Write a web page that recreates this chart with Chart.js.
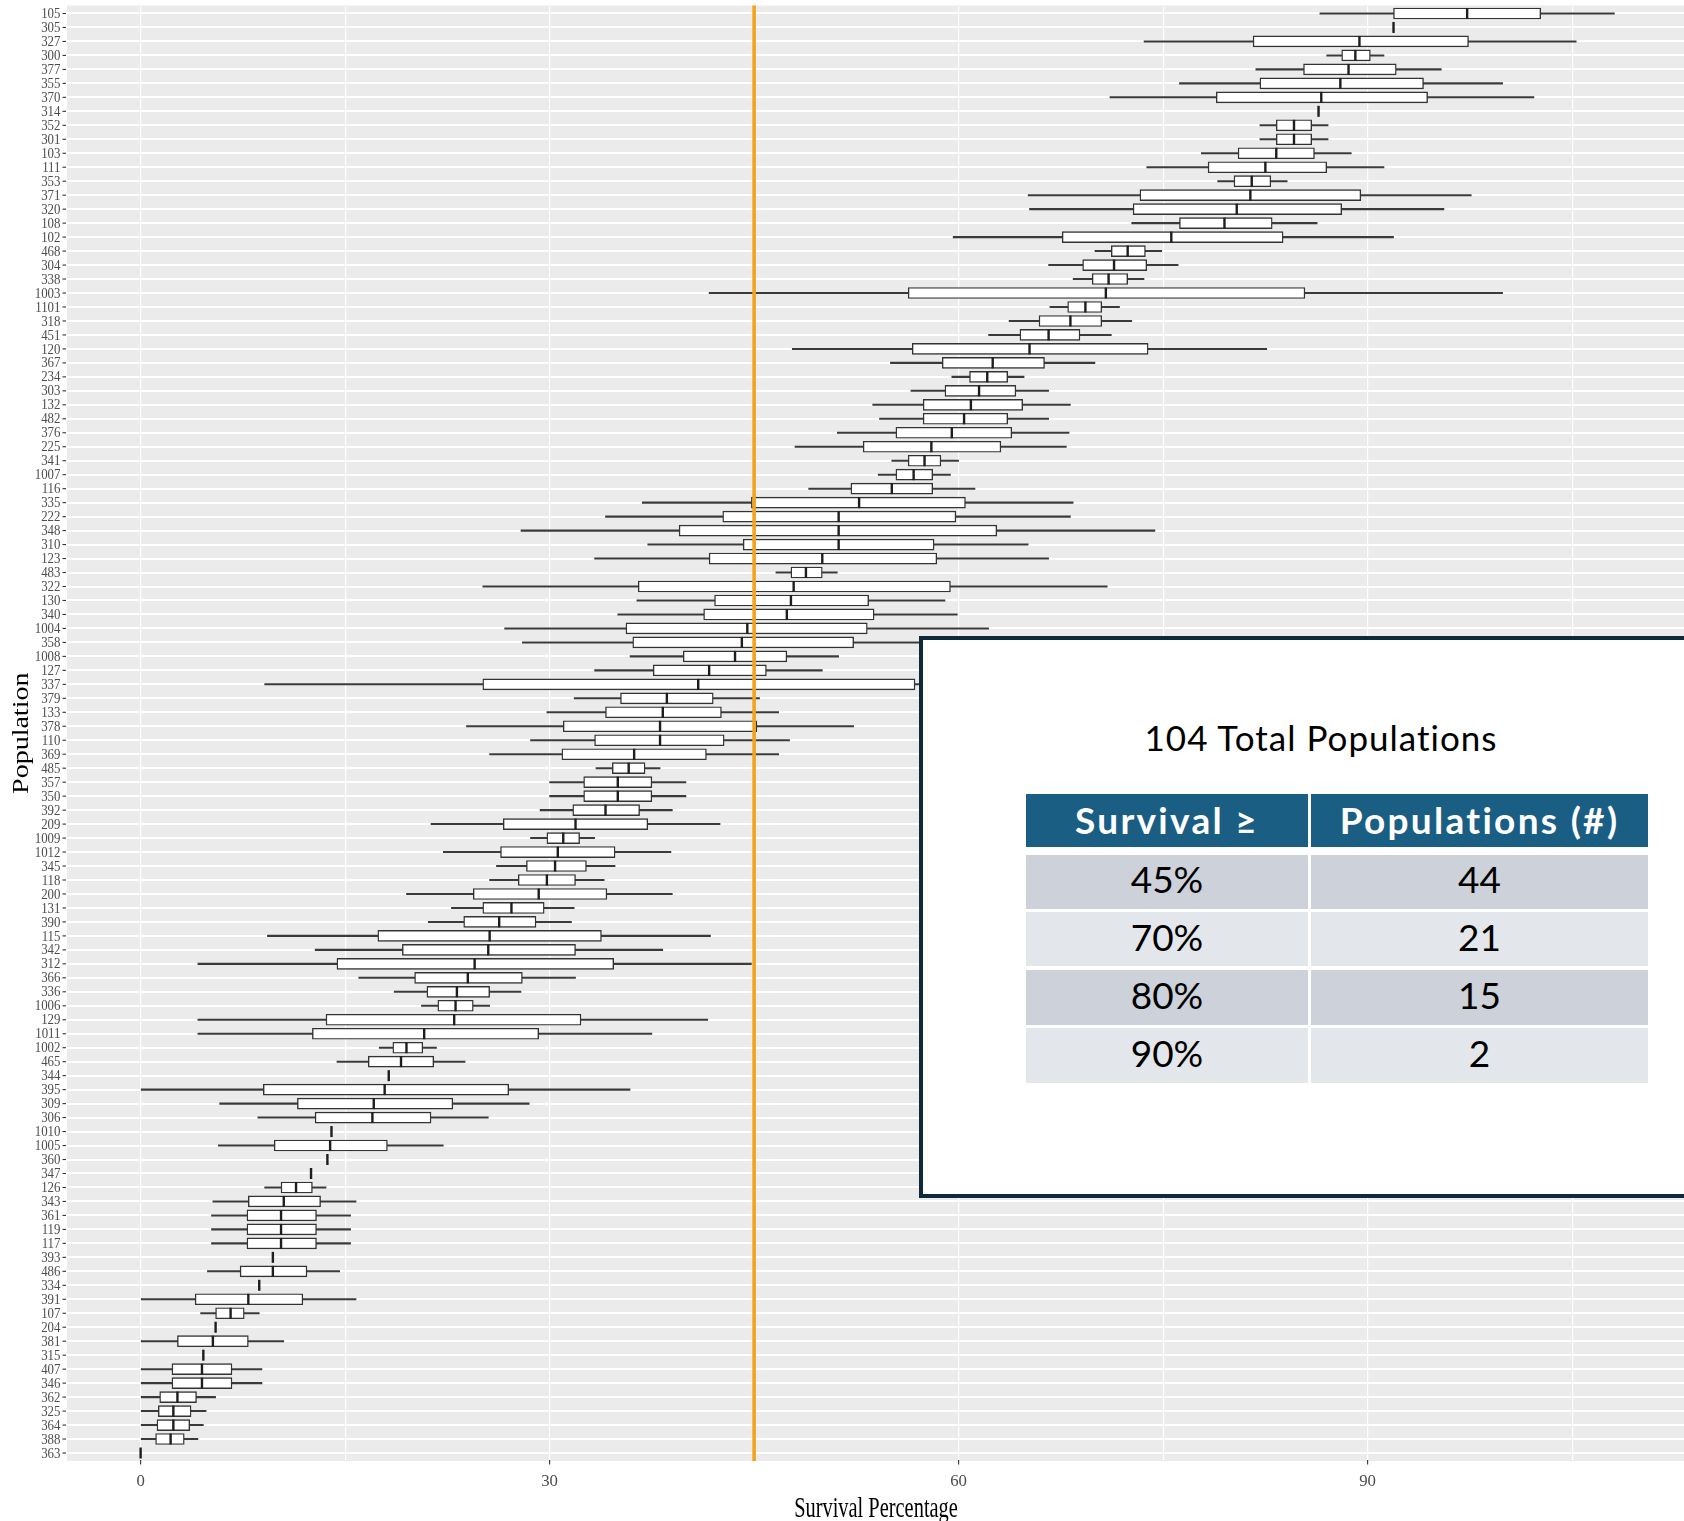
<!DOCTYPE html>
<html>
<head>
<meta charset="utf-8">
<script src="https://cdn.jsdelivr.net/npm/chart.js@4.4.1/dist/chart.umd.min.js"></script>
<style>
  html, body { margin: 0; padding: 0; background: #FFFFFF; }
  body { width: 1684px; height: 1521px; overflow: hidden; position: relative; }
  #wrap { position: absolute; left: 0; top: 0; width: 1692px; height: 1521px; }
  #note {
    position: absolute; left: 919px; top: 636px; width: 900px; height: 562px;
    box-sizing: border-box; border: 4px solid #0E2A3A; background: #FFFFFF;
    font-family: Lato, "Open Sans", sans-serif;
  }
  #note .title {
    position: absolute; left: 98px; width: 600px; top: 75px; text-align: center;
    font-size: 35px; letter-spacing: 1px; color: #000000; line-height: 44px;
  }
  #note .cell {
    position: absolute; display: flex; align-items: center; justify-content: center;
    box-sizing: border-box; padding-bottom: 6px;
    font-size: 37px; color: #000000;
  }
  #note .head {
    background: #1A5E84; color: #FFFFFF; font-weight: 700; font-size: 37px;
    letter-spacing: 2.3px; padding-bottom: 2px;
  }
</style>
</head>
<body>
<div id="wrap"><canvas id="chart" width="1692" height="1521"></canvas></div>
<div id="note"></div>
<script>
// Populations, top to bottom
const populations = [
  '105','305','327','300','377','355','370','314','352','301','103','111','353','371','320','108','102','468','304','338',
  '1003','1101','318','451','120','367','234','303','132','482','376','225','341','1007','116','335','222','348','310','123',
  '483','322','130','340','1004','358','1008','127','337','379','133','378','110','369','485','357','350','392','209','1009',
  '1012','345','118','200','131','390','115','342','312','366','336','1006','129','1011','1002','465','344','395','309','306',
  '1010','1005','360','347','126','343','361','119','117','393','486','334','391','107','204','381','315','407','346','362',
  '325','364','388','363'
];

// Survival percentage summaries per population
const whiskerLow = [
  86.5,91.9,73.6,87.0,81.8,76.2,71.1,86.4,82.1,82.1,77.8,73.8,79.0,65.1,65.2,72.7,59.6,70.0,66.6,68.4,
  41.7,66.7,63.7,62.2,47.8,55.0,59.5,56.5,53.7,54.2,51.1,48.0,55.1,54.1,49.0,36.8,34.1,27.9,37.2,33.3,
  46.6,25.1,36.4,35.0,26.7,28.0,35.9,33.3,9.1,31.8,29.8,23.9,28.6,25.6,33.4,30.0,30.0,29.3,21.3,28.6,
  22.2,26.1,25.6,19.5,22.8,21.1,9.3,12.8,4.2,16.0,18.6,20.6,4.2,4.2,17.5,14.4,18.2,0.0,5.8,8.6,
  14.0,5.7,13.7,12.5,9.1,5.3,5.2,5.2,5.2,9.7,4.9,8.7,0.0,4.4,5.5,0.0,4.6,0.0,0.0,0.0,
  0.0,0.0,0.0,0.0
];
const boxLow = [
  91.9,91.9,81.6,88.1,85.3,82.1,78.9,86.4,83.3,83.3,80.5,78.3,80.2,73.3,72.8,76.2,67.6,71.2,69.1,69.8,
  56.3,68.0,65.9,64.5,56.6,58.8,60.8,59.0,57.4,57.4,55.4,53.0,56.3,55.4,52.1,44.8,42.7,39.5,44.2,41.7,
  47.7,36.5,42.1,41.3,35.6,36.1,39.8,37.6,25.1,35.2,34.1,31.0,33.3,30.9,34.6,32.5,32.5,31.7,26.6,29.8,
  26.4,28.3,27.7,24.4,25.1,23.7,17.4,19.2,14.4,20.1,21.0,21.8,13.6,12.6,18.5,16.7,18.2,9.0,11.5,12.8,
  14.0,9.8,13.7,12.5,10.3,7.9,7.8,7.8,7.8,9.7,7.3,8.7,4.0,5.5,5.5,2.7,4.6,2.3,2.3,1.4,
  1.3,1.2,1.1,0.0
];
const median = [
  97.3,91.9,89.4,89.1,88.6,88.0,86.6,86.4,84.6,84.6,83.3,82.5,81.5,81.4,80.4,79.5,75.6,72.4,71.4,71.0,
  70.8,69.3,68.2,66.6,65.2,62.5,62.1,61.5,60.9,60.4,59.5,58.0,57.5,56.7,55.1,52.7,51.2,51.2,51.2,50.0,
  48.8,47.9,47.7,47.4,44.5,44.1,43.6,41.7,40.9,38.6,38.3,38.1,38.1,36.2,35.8,35.0,35.0,34.1,31.9,31.0,
  30.6,30.4,29.8,29.2,27.2,26.3,25.6,25.5,24.5,24.0,23.2,23.1,23.0,20.8,19.5,19.1,18.2,17.9,17.1,17.0,
  14.0,13.9,13.7,12.5,11.4,10.5,10.3,10.3,10.3,9.7,9.7,8.7,7.9,6.6,5.5,5.3,4.6,4.5,4.5,2.7,
  2.4,2.4,2.2,0.0
];
const boxHigh = [
  102.7,91.9,97.4,90.2,92.1,94.1,94.4,86.4,85.9,85.9,86.1,87.0,82.9,89.5,88.1,83.0,83.8,73.7,73.8,72.4,
  85.4,70.5,70.5,68.9,73.9,66.3,63.6,64.2,64.7,63.6,63.9,63.1,58.7,58.1,58.1,60.5,59.8,62.8,58.2,58.4,
  50.0,59.4,53.4,53.8,53.3,52.3,47.4,45.9,56.8,42.0,42.6,45.2,42.8,41.5,37.0,37.5,37.5,36.6,37.2,32.2,
  34.8,32.7,31.9,34.2,29.6,29.0,33.8,31.9,34.7,28.0,25.6,24.4,32.3,29.2,20.7,21.5,18.2,27.0,22.9,21.3,
  14.0,18.1,13.7,12.5,12.6,13.2,12.9,12.9,12.9,9.7,12.2,8.7,11.9,7.6,5.5,7.9,4.6,6.7,6.7,4.1,
  3.7,3.6,3.2,0.0
];
const whiskerHigh = [
  108.1,91.9,105.3,91.2,95.4,99.9,102.2,86.4,87.1,87.1,88.8,91.2,84.1,97.6,95.6,86.3,91.9,74.9,76.1,73.6,
  99.9,71.8,72.7,71.2,82.6,70.0,64.8,66.6,68.2,66.6,68.1,67.9,60.0,59.4,61.2,68.4,68.2,74.4,65.1,66.6,
  51.1,70.9,59.0,59.9,62.2,60.2,51.2,50.0,72.6,45.4,46.8,52.3,47.6,46.8,38.1,40.0,40.0,39.0,42.5,33.3,
  38.9,34.8,34.0,39.0,31.8,31.6,41.8,38.3,44.8,31.9,27.9,25.6,41.6,37.5,21.7,23.8,18.2,35.9,28.5,25.5,
  14.0,22.2,13.7,12.5,13.6,15.8,15.4,15.4,15.4,9.7,14.6,8.7,15.8,8.7,5.5,10.5,4.6,8.9,8.9,5.5,
  4.8,4.6,4.2,0.0
];

// Reference threshold and axis ticks
const threshold = 45;
const xTickValues = [0, 30, 60, 90];

// Summary table
const totalPopulations = 104;
const tableHeader = ['Survival \u2265', 'Populations (#)'];
const survivalLevels = ['45%', '70%', '80%', '90%'];
const populationCounts = [44, 21, 15, 2];

const SERIF = '"Liberation Serif", "DejaVu Serif", serif';

const panelBackground = {
  id: 'panelBackground',
  beforeDraw(chart) {
    const { ctx, chartArea: a } = chart;
    ctx.save();
    ctx.fillStyle = '#EBEBEB';
    ctx.fillRect(a.left, a.top - 1, a.right - a.left, a.bottom - a.top + 2);
    ctx.restore();
  }
};

const medianAndThreshold = {
  id: 'medianAndThreshold',
  afterDatasetsDraw(chart) {
    const { ctx, chartArea: a } = chart;
    const xs = chart.scales.x;
    const meta = chart.getDatasetMeta(0);
    ctx.save();
    ctx.strokeStyle = '#1E1E1E';
    ctx.lineWidth = 2.4;
    meta.data.forEach((el, i) => {
      const px = xs.getPixelForValue(median[i]);
      const h = el.height;
      ctx.beginPath();
      ctx.moveTo(px, el.y - h / 2);
      ctx.lineTo(px, el.y + h / 2);
      ctx.stroke();
    });
    const tx = xs.getPixelForValue(threshold);
    ctx.strokeStyle = '#F4A31C';
    ctx.lineWidth = 3.6;
    ctx.beginPath();
    ctx.moveTo(tx, a.top - 1);
    ctx.lineTo(tx, a.bottom + 1);
    ctx.stroke();
    ctx.restore();
  }
};

// Narrow serif axis text, ticks and titles
const axisText = {
  id: 'axisText',
  afterDraw(chart) {
    const { ctx, chartArea: a } = chart;
    const xs = chart.scales.x, ys = chart.scales.y;
    ctx.save();
    ctx.strokeStyle = '#333333';
    ctx.lineWidth = 1.1;
    ctx.fillStyle = '#4D4D4D';
    ctx.font = '14px ' + SERIF;
    ctx.textAlign = 'right';
    ctx.textBaseline = 'alphabetic';
    populations.forEach((lab, i) => {
      const py = ys.getPixelForValue(i);
      ctx.beginPath();
      ctx.moveTo(a.left - 4.5, py);
      ctx.lineTo(a.left - 1, py);
      ctx.stroke();
      ctx.save();
      ctx.translate(a.left - 6.5, py + 4.6);
      ctx.scale(0.92, 1);
      ctx.fillText(lab, 0, 0);
      ctx.restore();
    });
    ctx.font = '17.3px ' + SERIF;
    ctx.textAlign = 'center';
    xTickValues.forEach(v => {
      const px = xs.getPixelForValue(v);
      ctx.beginPath();
      ctx.moveTo(px, a.bottom);
      ctx.lineTo(px, a.bottom + 4.5);
      ctx.stroke();
      ctx.save();
      ctx.translate(px, 1485.5);
      ctx.scale(0.97, 1);
      ctx.fillText(String(v), 0, 0);
      ctx.restore();
    });
    ctx.fillStyle = '#000000';
    ctx.font = '30px ' + SERIF;
    ctx.save();
    ctx.translate(876, 1516.7);
    ctx.scale(0.68, 1);
    ctx.fillText('Survival Percentage', 0, 0);
    ctx.restore();
    ctx.font = '28px ' + SERIF;
    ctx.save();
    ctx.translate(28, (a.top + a.bottom) / 2);
    ctx.scale(0.85, 1);
    ctx.rotate(-Math.PI / 2);
    ctx.fillText('Population', 0, 0);
    ctx.restore();
    ctx.restore();
  }
};

new Chart(document.getElementById('chart'), {
  type: 'bar',
  data: {
    labels: populations,
    datasets: [
      {
        label: 'Interquartile range',
        data: boxLow.map((v, i) => [v, boxHigh[i]]),
        backgroundColor: '#FFFFFF',
        borderColor: '#333333',
        borderWidth: 1.4,
        borderSkipped: false,
        barThickness: 11,
        grouped: false,
        order: 0
      },
      {
        label: 'Whiskers',
        data: whiskerLow.map((v, i) => [v, whiskerHigh[i]]),
        backgroundColor: '#3A3A3A',
        borderWidth: 0,
        barThickness: 1.4,
        grouped: false,
        order: 1
      }
    ]
  },
  options: {
    indexAxis: 'y',
    responsive: false,
    animation: false,
    devicePixelRatio: 1,
    layout: { padding: { left: 67, right: 4, top: 6.5, bottom: 61 } },
    plugins: { legend: { display: false }, tooltip: { enabled: false } },
    scales: {
      x: {
        type: 'linear',
        min: -5.4,
        max: 113.5,
        ticks: { display: false, stepSize: 15, includeBounds: false },
        grid: { color: '#FFFFFF', lineWidth: 1.2, drawTicks: false },
        border: { display: false }
      },
      y: {
        type: 'category',
        offset: true,
        ticks: { display: false },
        grid: { offset: false, color: '#FFFFFF', lineWidth: 2, drawTicks: false },
        border: { display: false }
      }
    }
  },
  plugins: [panelBackground, medianAndThreshold, axisText]
});

// Summary table panel
(function buildNote() {
  const note = document.getElementById('note');
  const originX = 919, originY = 636;
  const title = document.createElement('div');
  title.className = 'title';
  title.textContent = totalPopulations + ' Total Populations';
  note.appendChild(title);
  const cols = [[1026, 1308], [1311, 1648]];
  const rowTops = [794, 855, 912, 969.5, 1027.5];
  const rowHeights = [52.5, 53.5, 54, 55, 55.5];
  const fills = ['#1A5E84', '#CDD1D9', '#E3E6EA', '#CDD1D9', '#E3E6EA'];
  const rows = [tableHeader].concat(survivalLevels.map((s, i) => [s, String(populationCounts[i])]));
  rows.forEach((r, ri) => {
    r.forEach((txt, ci) => {
      const c = document.createElement('div');
      c.className = 'cell' + (ri === 0 ? ' head' : '');
      c.style.left = (cols[ci][0] - originX - 4) + 'px';
      c.style.width = (cols[ci][1] - cols[ci][0]) + 'px';
      c.style.top = (rowTops[ri] - originY - 4) + 'px';
      c.style.height = rowHeights[ri] + 'px';
      c.style.background = fills[ri];
      c.textContent = txt;
      note.appendChild(c);
    });
  });
})();
</script>
</body>
</html>
